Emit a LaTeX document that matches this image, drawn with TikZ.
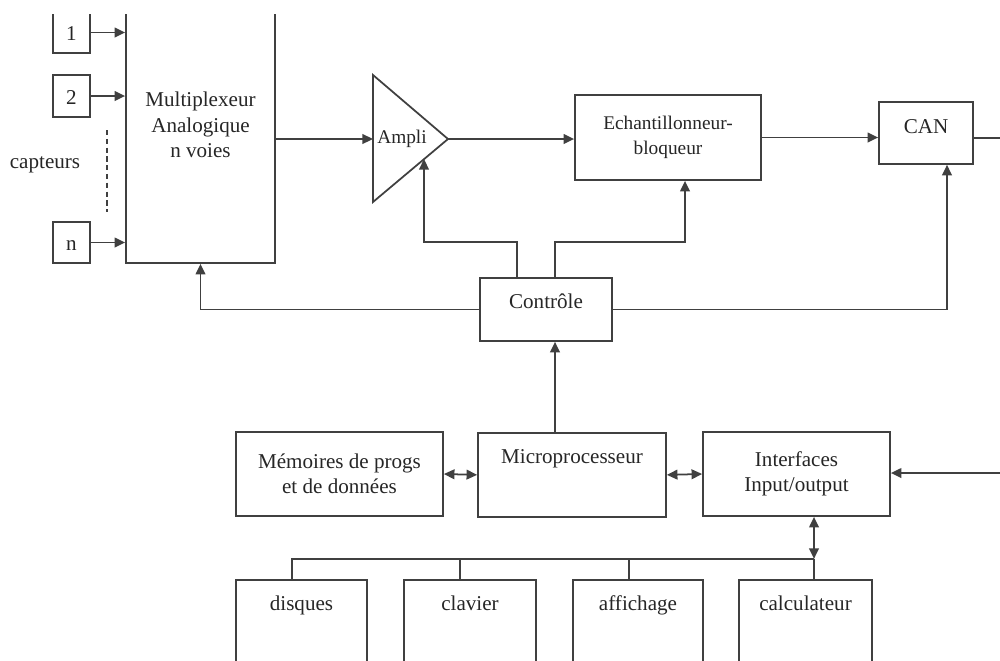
\documentclass[tikz,border=0pt]{standalone}
\usepackage{fontspec}
\setmainfont{Liberation Serif}
\usetikzlibrary{arrows.meta}

\begin{document}
\begin{tikzpicture}[x=0.2mm, y=-0.2mm,
    line width=1pt, draw=black!75, text=black!85,
    font=\fontsize{12}{14.5}\selectfont,
    box/.style={draw, rectangle, inner sep=4pt, align=center},
    capteur/.style={box, minimum width=7.4mm, text height=12.5pt, text depth=3pt, inner xsep=0pt},
    arr/.style={-{Triangle[length=6pt,width=5.5pt]}},
    dbl/.style={{Triangle[length=6pt,width=5.5pt]}-{Triangle[length=6pt,width=5.5pt]}}]
    \useasboundingbox (0,0) rectangle (1000,660);
    \clip (0,14) rectangle (1000,660);

    % capteurs
    \node[capteur] (s1) at (71.5,32.5) {1};
    \node[capteur] (s2) at (71.5,96) {2};
    \node[capteur] (sn) at (71.5,242.5) {n};
    \node (capt) at (45,165) {capteurs};
    \draw[dashed, dash pattern=on 3pt off 2pt] (107,130) -- (107,212);

    % chaine d'acquisition
    \node[box, minimum width=29.8mm, minimum height=55.2mm] (mux) at (200.5,125) {Multiplexeur\\Analogique\\n voies};
    \draw (373,75) coordinate (amptop) -- (448,139) coordinate (amptip) -- (373,202) coordinate (ampbot) -- cycle;
    \coordinate (ampin) at (373,139);
    \coordinate (amplow) at (424,159);
    \node[font=\fontsize{11}{13}\selectfont, inner sep=0pt] (ampli) at (402,139) {Ampli};
    \node[box, minimum width=37.2mm, minimum height=17mm, font=\fontsize{11}{14}\selectfont] (echant) at (668,137.5) {Echantillonneur-\\bloqueur};
    \node[box, minimum width=18.8mm, text height=13.6pt, text depth=13.6pt] (can) at (926,133) {CAN};
    \node[box, minimum width=26.4mm, text height=13.6pt, text depth=14.2pt] (ctrl) at (546,309.5) {Contrôle};
    \coordinate (canout) at (1005,138);

    \foreach \s in {s1,s2,sn}
        \draw[arr] (\s.east) -- (\s.east -| mux.west);
    \draw[arr] (mux.east |- ampin) -- (ampin);
    \draw[arr] (amptip) -- (amptip -| echant.west);
    \draw[arr] (echant.east) -- (echant.east -| can.west);
    \draw (can.east |- canout) -- (canout);

    % commandes
    \draw[arr] ([xshift=-5.8mm]ctrl.north) -- ++(0,-35) -| (amplow);
    \draw[arr] ([xshift=1.8mm]ctrl.north) -- ++(0,-35) -| ([xshift=3.4mm]echant.south);
    \draw[arr] (ctrl.east) -| ([xshift=4.2mm]can.south);
    \draw[arr] (ctrl.west) -| (mux.south);

    % partie numerique
    \node[box, minimum width=41.4mm, minimum height=16.8mm] (mem) at (339.5,474) {Mémoires de progs\\et de données};
    \node[box, anchor=north, minimum width=37.6mm, text height=13.6pt, text depth=26.2pt] (micro) at (572,432) {Microprocesseur};
    \node[box, minimum width=37.4mm, minimum height=16.8mm] (io) at (796.5,474) {Interfaces\\Input/output};
    \coordinate (ioin) at (1005,473);

    \draw[arr] ([xshift=-3.4mm]micro.north) -- ([xshift=1.8mm]ctrl.south);
    \draw[dbl] (mem.east) -- (micro.west);
    \draw[dbl] (micro.east) -- (io.west);
    \draw[arr] (ioin) -- (io.east |- ioin);

    % peripheriques
    \foreach \name/\x/\w/\txt in {disk/301.5/26.2/disques, clav/470/26.4/clavier, aff/638/26/affichage, calc/805.5/26.6/calculateur}
        \node[box, anchor=north, minimum width=\w mm, text height=13.6pt, text depth=47pt] (\name) at (\x,579) {\txt};

    \draw[dbl] ([xshift=3.5mm]io.south) -- ++(0,42) coordinate (bus);
    \draw (bus) -- (bus |- calc.north);
    \draw (bus) -| ([xshift=-1.9mm]disk.north);
    \draw ([xshift=-2mm]clav.north) -- ([xshift=-2mm]clav.north |- bus);
    \draw ([xshift=-1.8mm]aff.north) -- ([xshift=-1.8mm]aff.north |- bus);
\end{tikzpicture}
\end{document}
